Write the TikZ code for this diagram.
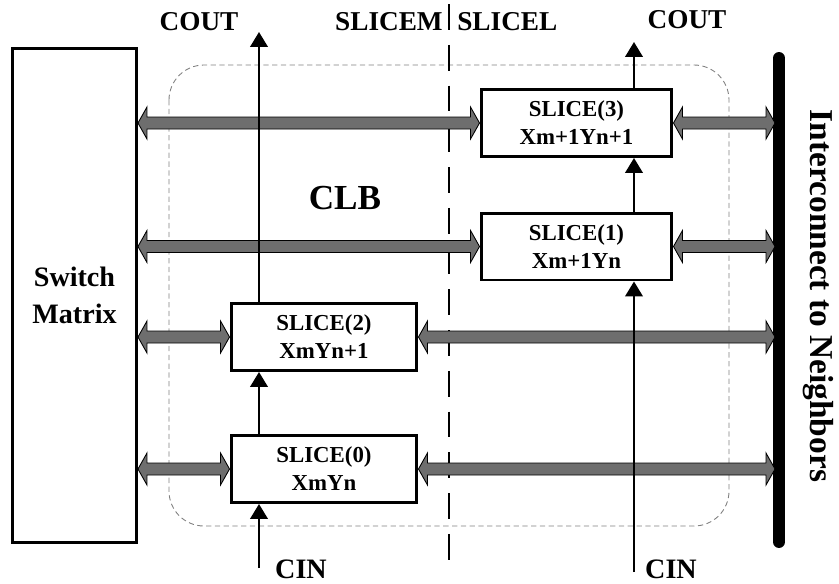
\documentclass[tikz,border=0pt]{standalone}
\usepackage{fontspec}
\setmainfont{Liberation Serif}
\usetikzlibrary{calc, arrows.meta, positioning}

\tikzset{
  slicebox/.style={draw, fill=white, line width=1.7pt, minimum height=1.34cm, align=center,
    inner sep=0pt, font=\fontsize{13}{16}\selectfont\bfseries},
  bus/.style={draw=black, fill=busgray, line width=0.5pt, line join=miter},
  carry/.style={line width=1.1pt, -{Triangle[length=8.5pt, width=10pt]}},
  lbl/.style={font=\fontsize{15.5}{18}\selectfont\bfseries, inner sep=0pt},
}
\definecolor{busgray}{HTML}{6E6E6E}

\newcommand{\busarrow}[2]{%
  \draw[bus] (#1) -- ++(9,-16) -- ++(0,10) -- ($(#2)+(-9,-6)$) -- ++(0,-10) -- (#2)
    -- ++(-9,16) -- ++(0,-10) -- ($(#1)+(9,6)$) -- ++(0,10) -- cycle;}

\begin{document}
\begin{tikzpicture}[x=0.02cm, y=-0.02cm]
  \useasboundingbox (0,0) rectangle (839,583);

  \node[draw, line width=1.7pt, minimum width=2.48cm, minimum height=9.9cm, align=center,
    font=\fontsize{16}{21}\selectfont\bfseries] (sw) at (74.5,295.5) {Switch\\Matrix};

  \draw[gray, line width=0.5pt, dash pattern=on 3pt off 2pt, rounded corners=0.7cm]
    (169,65) rectangle (729,526);
  \node[font=\fontsize{20}{24}\selectfont\bfseries] (clb) at (345,198) {CLB};

  \draw[line width=1.7pt, dash pattern=on 14.7pt off 8.5pt] (449,4) -- (449,572);
  \node[lbl, anchor=east] (slicem) at (443,22) {SLICEM};
  \node[lbl, anchor=west] (slicel) at (457,22) {SLICEL};

  \node[slicebox, minimum width=3.72cm] (s0) at (324,469) {SLICE(0)\\XmYn};
  \node[slicebox, minimum width=3.72cm] (s2) at (324,337) {SLICE(2)\\XmYn+1};
  \node[slicebox, minimum width=3.82cm] (s1) at (576.5,246.5) {SLICE(1)\\Xm+1Yn};
  \node[slicebox, minimum width=3.82cm] (s3) at (576.5,123) {SLICE(3)\\Xm+1Yn+1};

  \coordinate (bartop) at (779,58);
  \coordinate (barbot) at (779,542);
  \coordinate (bus) at (775,0);
  \draw[line width=6.8pt, line cap=round] (bartop) -- (barbot);
  \node[rotate=-90, font=\fontsize{19}{24}\selectfont\bfseries] (ictn) at (818,296)
    {Interconnect to Neighbors};

  \busarrow{sw.east |- s3.west}{s3.west}
  \busarrow{s3.east}{bus |- s3.east}
  \busarrow{sw.east |- s1.west}{s1.west}
  \busarrow{s1.east}{bus |- s1.east}
  \busarrow{sw.east |- s2.west}{s2.west}
  \busarrow{s2.east}{bus |- s2.east}
  \busarrow{sw.east |- s0.west}{s0.west}
  \busarrow{s0.east}{bus |- s0.east}

  \coordinate (cinl) at (259,568);
  \coordinate (coutl) at (259,32);
  \coordinate (cinr) at (634,572);
  \coordinate (coutr) at (634,42);
  \draw[carry] (cinl) -- (s0.south -| cinl);
  \draw[carry] (s0.north -| cinl) -- (s2.south -| cinl);
  \draw[carry] (s2.north -| cinl) -- (coutl);
  \draw[carry] (cinr) -- (s1.south -| cinr);
  \draw[carry] (s1.north -| cinr) -- (s3.south -| cinr);
  \draw[carry] (s3.north -| cinr) -- (coutr);

  \node[lbl] (coutlbl) at (199,22) {COUT};
  \node[lbl] (coutrbl) at (687,20) {COUT};
  \node[lbl, font=\fontsize{16}{18}\selectfont\bfseries] (cinlbl) at (301,569) {CIN};
  \node[lbl, font=\fontsize{16}{18}\selectfont\bfseries] (cinrbl) at (671,569) {CIN};
\end{tikzpicture}
\end{document}
